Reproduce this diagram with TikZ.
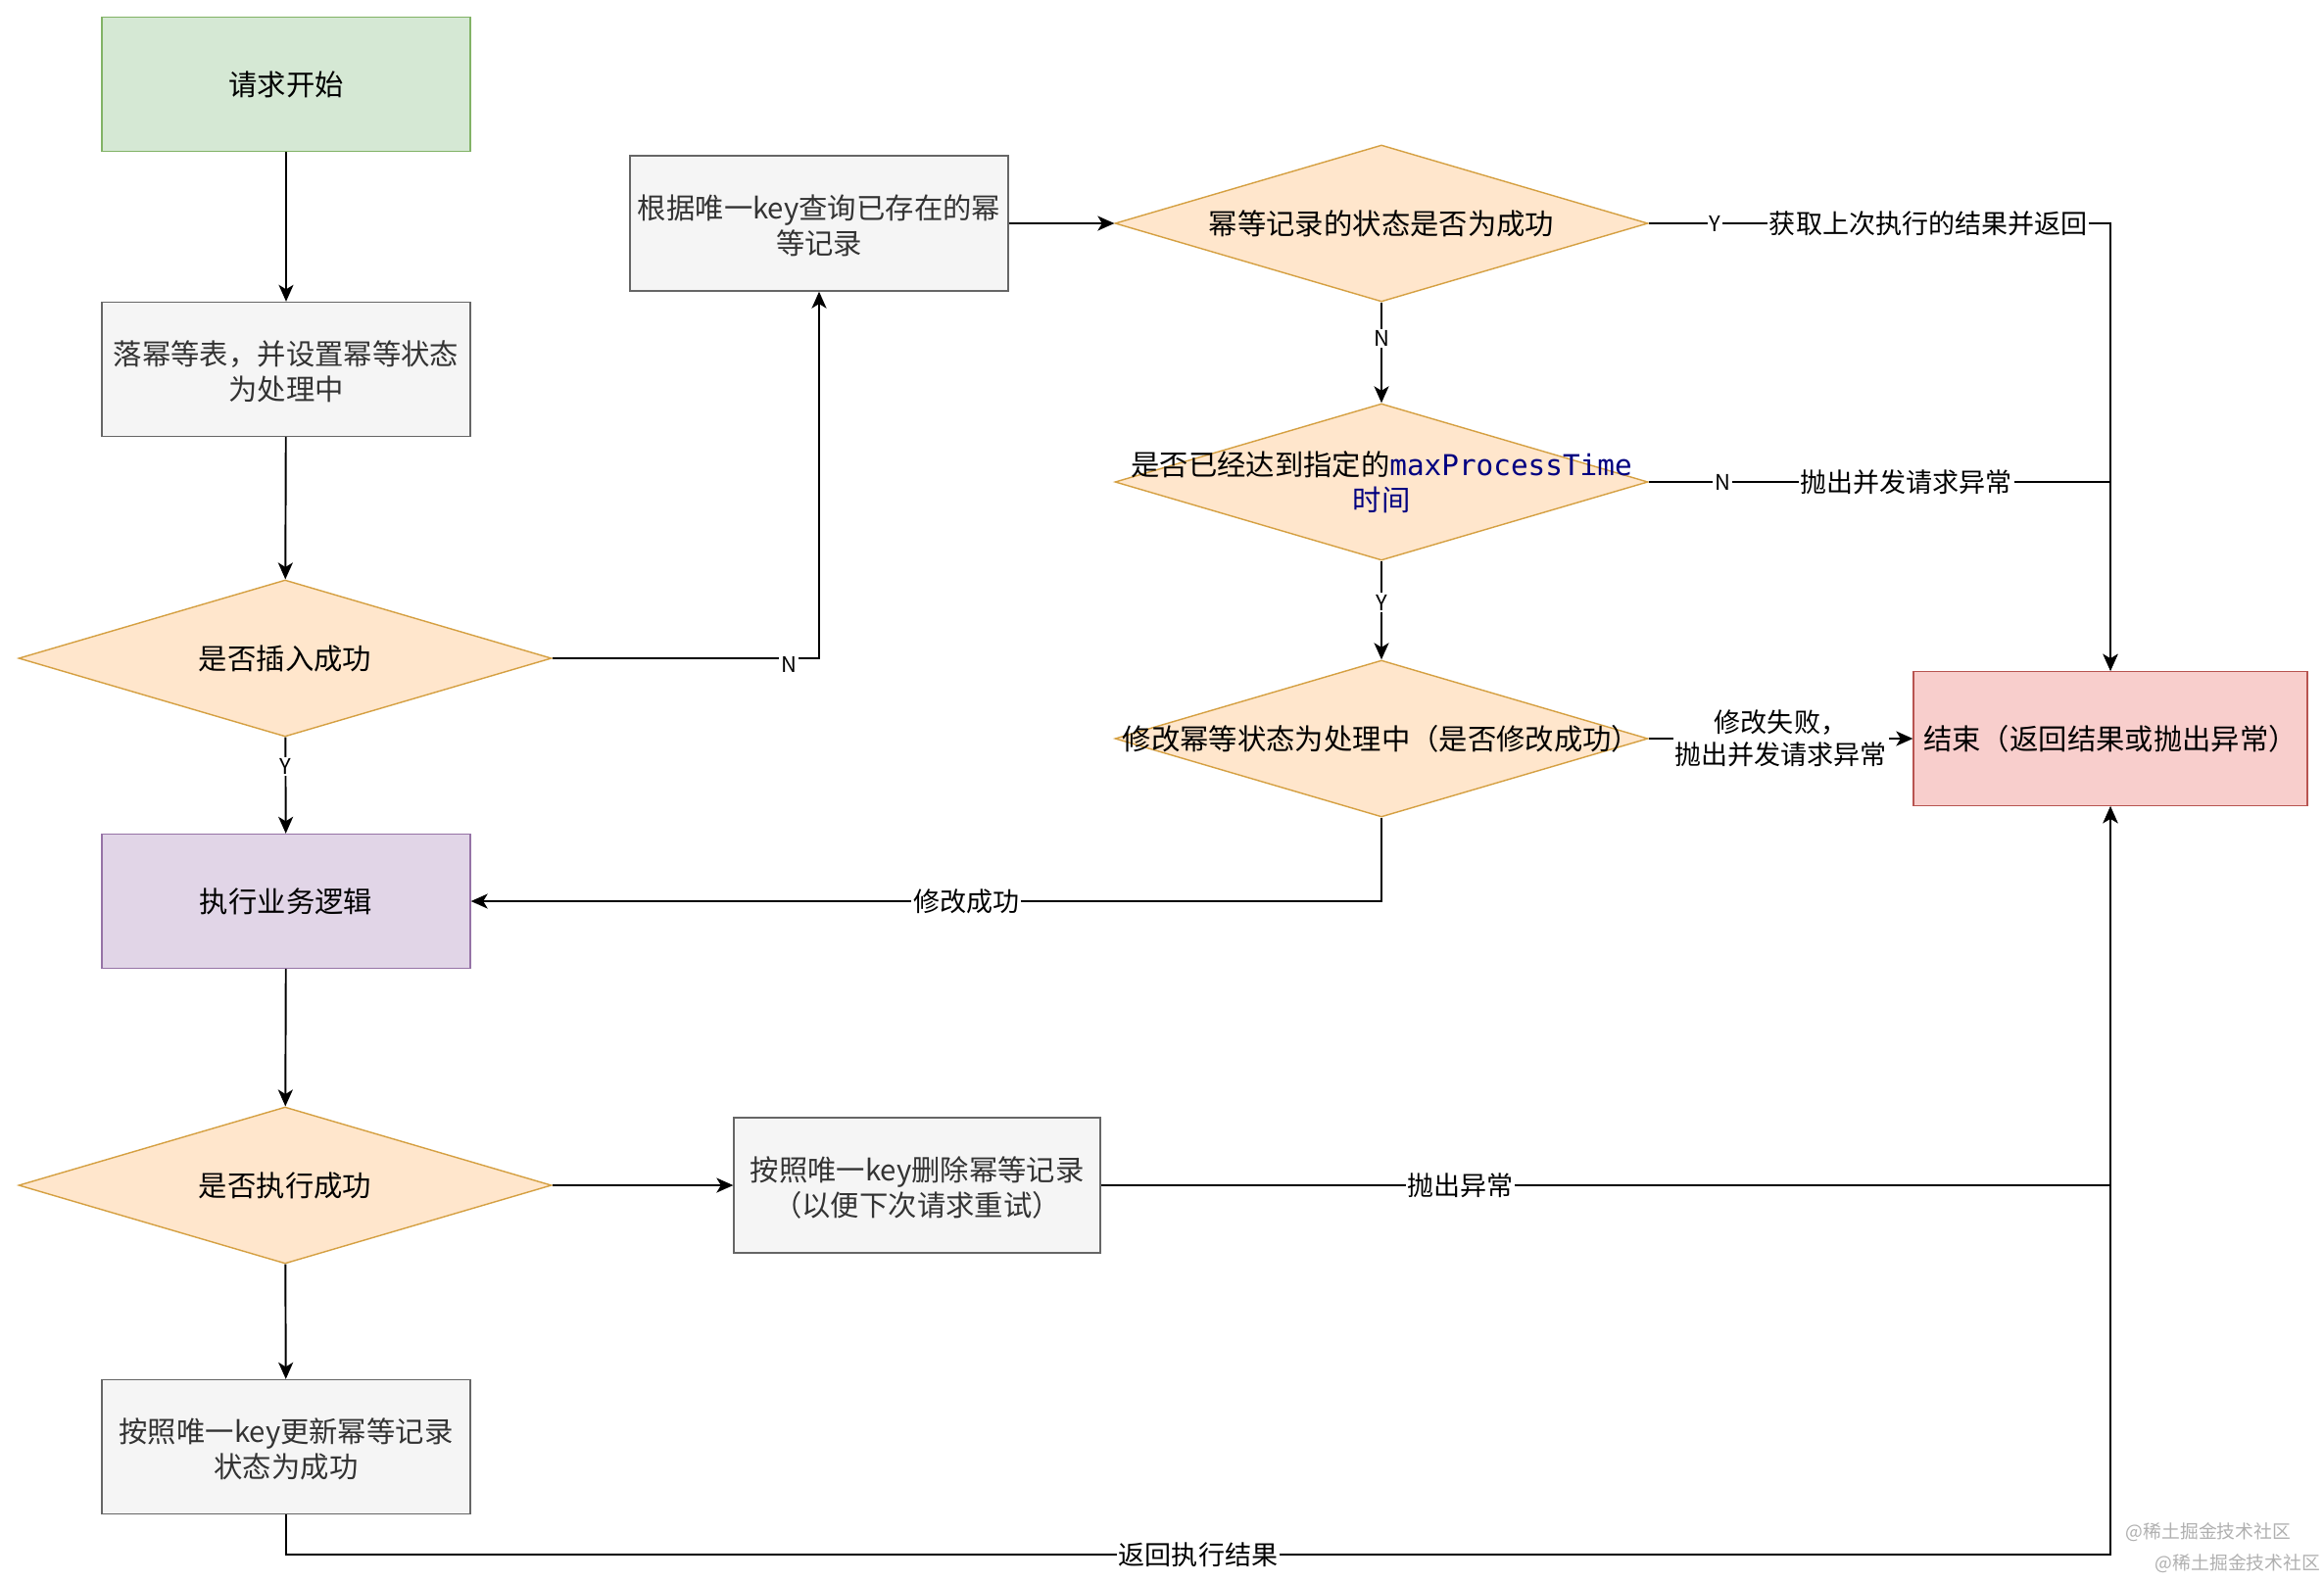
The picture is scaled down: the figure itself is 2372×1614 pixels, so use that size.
\documentclass[tikz,border=0pt]{standalone}
\usepackage{fontspec}
\setmainfont{Noto Sans CJK SC}
\newfontfamily\monof{DejaVu Sans Mono}
\usetikzlibrary{shapes.geometric,arrows.meta}
\definecolor{gfill}{HTML}{F5F5F5}
\definecolor{gdraw}{HTML}{666666}
\definecolor{gtext}{HTML}{333333}
\definecolor{ofill}{HTML}{FFE6CC}
\definecolor{odraw}{HTML}{D5A042}
\definecolor{grfill}{HTML}{D5E8D4}
\definecolor{grdraw}{HTML}{82B366}
\definecolor{pfill}{HTML}{E1D5E7}
\definecolor{pdraw}{HTML}{9673A6}
\definecolor{rfill}{HTML}{F8CECC}
\definecolor{rdraw}{HTML}{B85450}
\definecolor{navyt}{HTML}{000080}
\definecolor{wmgray}{HTML}{B0B0B0}
\newcommand\zw[1]{\makebox[0pt]{\smash{\raisebox{-6.8pt}{\begin{tabular}{@{}c@{}}#1\end{tabular}}}}}
\newcommand\zb[1]{\makebox[0pt]{\smash{\raisebox{-7.8pt}{\begin{tabular}{@{}c@{}}#1\end{tabular}}}}}
\tikzset{
  base/.style={draw, line width=0.8pt, align=center, inner sep=0pt,
    font=\fontsize{16.7}{20.6}\selectfont},
  box/.style={base, rectangle, minimum width=7.52cm, minimum height=2.74cm},
  greybox/.style={box, fill=gfill, draw=gdraw, text=gtext},
  dia/.style={base, diamond, fill=ofill, draw=odraw, minimum width=10.88cm, minimum height=3.2cm},
  conn/.style={line width=1.1pt, -{Stealth[length=0.34cm,width=0.3cm,inset=0.09cm]}},
  lab/.style={fill=white, inner sep=1pt, align=center,
    font=\fontsize{15.4}{18.9}\selectfont},
  yn/.style={fill=white, inner sep=1pt, font=\fontsize{12.5}{14}\selectfont},
  wm/.style={text=wmgray, inner sep=0pt, font=\fontsize{10.7}{13}\selectfont},
}
\begin{document}
\begin{tikzpicture}[x=0.02cm, y=-0.02cm]
\fill[white] (0,0) rectangle (2372,1614);
\path[use as bounding box] (0,0) rectangle (2372,1614);

% left column
\node[box, fill=grfill, draw=grdraw] (start) at (292,86) {请求开始};
\node[greybox] (drop) at (292,377) {\zb{落幂等表，并设置幂等状态\\为处理中}};
\node[dia] (ins) at (291,672) {\zw{是否插入成功}};
\node[box, fill=pfill, draw=pdraw] (biz) at (292,920) {执行业务逻辑};
\node[dia] (exe) at (291,1210) {\zw{是否执行成功}};
\node[greybox] (upd) at (292,1477) {\zb{按照唯一key更新幂等记录\\状态为成功}};

% middle / right
\node[greybox, minimum width=7.72cm, minimum height=2.76cm] (query) at (836,228)
  {\zb{根据唯一key查询已存在的幂\\等记录}};
\node[dia] (d1) at (1410,228) {\zw{幂等记录的状态是否为成功}};
\node[dia] (d2) at (1410,492)
  {\zw{是否已经达到指定的\textcolor{navyt}{\monof maxProcessTime}\\\textcolor{navyt}{时间}}};
\node[dia] (d3) at (1410,754) {\zw{修改幂等状态为处理中（是否修改成功）}};
\node[box, fill=rfill, draw=rdraw, minimum width=8.04cm] (end) at (2154,754)
  {结束（返回结果或抛出异常）};
\node[greybox, minimum width=7.48cm, minimum height=2.76cm] (del) at (936,1210)
  {\zb{按照唯一key删除幂等记录\\（以便下次请求重试）}};

\coordinate (c1) at (2154,1587);

% connectors
\draw[conn] (start) -- (drop);
\draw[conn] (drop) -- (ins);
\draw[conn] (ins.east) -| node[pos=0.443, yn, yshift=-0.12cm]{N} (query.south);
\draw[conn] (ins) -- node[pos=0.306, yn]{Y} (biz);
\draw[conn] (query.east) -- (d1.west);
\draw[conn] (d1.east) -| node[pos=0.072, yn]{Y}
  node[pos=0.303, lab]{获取上次执行的结果并返回} (end.north);
\draw[conn] (d1) -- node[pos=0.36, yn]{N} (d2);
\draw[conn] (d2.east) -| node[pos=0.08, yn]{N}
  node[pos=0.279, lab]{抛出并发请求异常} (end.north);
\draw[conn] (d2) -- node[pos=0.42, yn]{Y} (d3);
\draw[conn] (d3) -- node[pos=0.5, lab]{修改失败，\\抛出并发请求异常} (end);
\draw[conn] (d3.south) |- node[pos=0.728, lab]{修改成功} (biz.east);
\draw[conn] (biz) -- (exe);
\draw[conn] (exe) -- (del);
\draw[conn] (del.east) -| node[pos=0.178, lab]{抛出异常} (end.south);
\draw[conn] (exe) -- (upd);
\draw[conn] (upd.south) |- node[pos=0.75, lab]{返回执行结果} (c1) -- (end.south);

% watermark
\node[wm] (wm1) at (2254,1564) {@稀土掘金技术社区};
\node[wm] (wm2) at (2284,1596) {@稀土掘金技术社区};
\end{tikzpicture}
\end{document}
